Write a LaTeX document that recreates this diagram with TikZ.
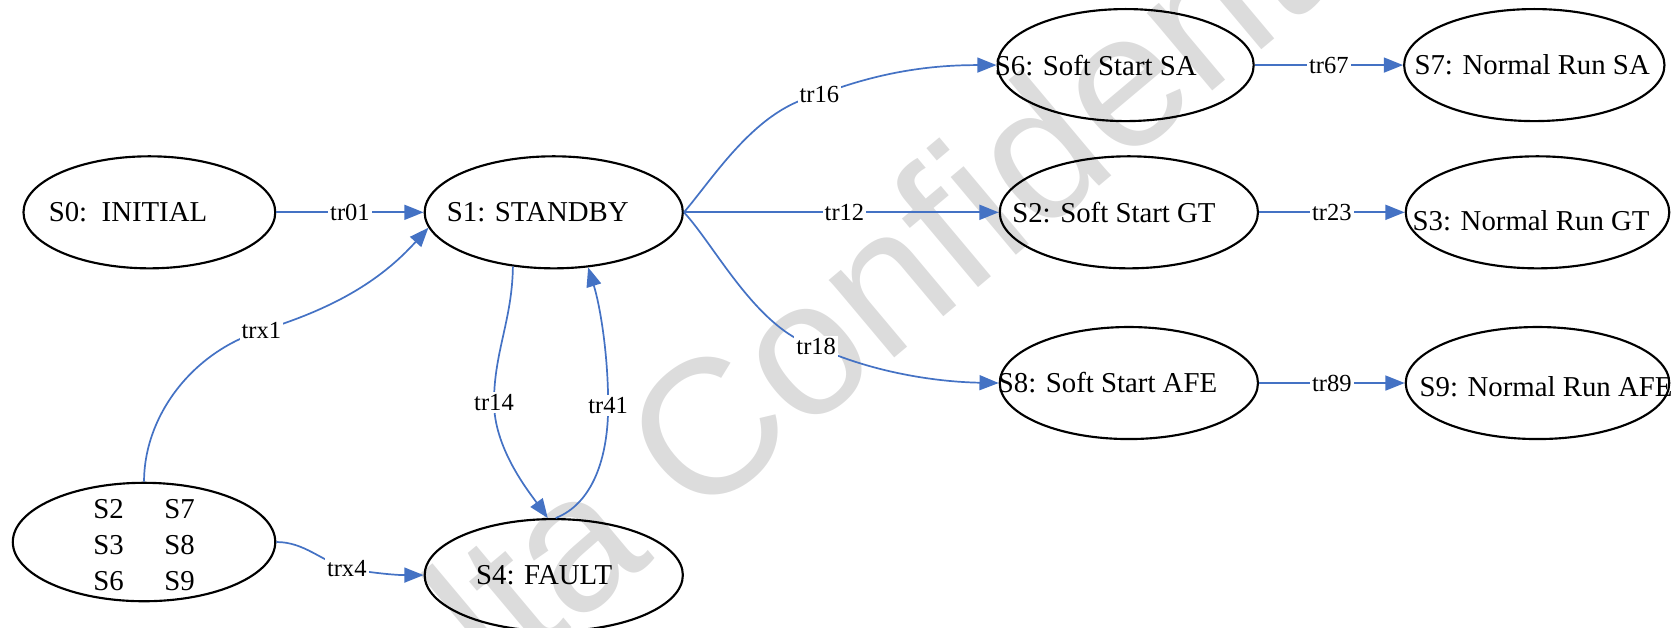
\documentclass[tikz,border=0pt]{standalone}
\usepackage{fontspec}
\setmainfont{Liberation Serif}
\newfontfamily\wmfont{Liberation Sans}
\usetikzlibrary{shapes.geometric,arrows.meta}
\definecolor{edgeblue}{HTML}{4472C4}
\definecolor{wmgrey}{HTML}{DCDCDC}
\begin{document}
\begin{tikzpicture}[x=0.5pt,y=-0.5pt,
  state/.style={ellipse,draw=black,line width=1pt,minimum width=121pt,minimum height=52.5pt,inner sep=0pt},
  stxt/.style={font=\fontsize{13.5}{15}\selectfont,inner sep=0pt},
  edge/.style={draw=edgeblue,line width=0.8pt,-{Triangle[length=9pt,width=7pt]}},
  lbl/.style={fill=white,inner sep=1pt,font=\fontsize{11.5}{12}\selectfont}]
\useasboundingbox (0,0) rectangle (1568,587.7);
% watermark
\begin{scope}
\clip (0,0) rectangle (1568,587.7);
\node[rotate=40,anchor=base west,text=wmgrey,inner sep=0pt,font=\wmfont\fontsize{90}{90}\selectfont] (wm) at (292,794) {Delta Confidential};
\end{scope}
% states
\node[state,minimum width=118pt,label={[stxt,xshift=-10pt]center:S0:~~INITIAL}] (s0) at (140,199) {};
\node[state,label={[stxt,xshift=-7.5pt]center:S1: STANDBY}] (s1) at (519,199) {};
\node[state,label={[stxt,xshift=-4.5pt]center:S4: FAULT}] (s4) at (519,539) {};
\node[state,minimum width=123pt,minimum height=55.5pt] (g) at (135,508) {};
\node[stxt,font=\fontsize{13.5}{16.75}\selectfont,yshift=-2.5pt] (gt) at (g) {\begin{tabular}{@{}l@{\hspace{19pt}}l@{}}S2 & S7\\ S3 & S8\\ S6 & S9\end{tabular}};
\node[state,minimum width=120pt,label={[stxt,xshift=-14pt]center:S6: Soft Start SA}] (s6) at (1055,61) {};
\node[state,label={[stxt,xshift=-7pt]center:S2: Soft Start GT}] (s2) at (1058,199) {};
\node[state,label={[stxt,xshift=-10pt]center:S8: Soft Start AFE}] (s8) at (1058,359) {};
\node[state,minimum width=122pt,label={[stxt,xshift=-1pt]center:S7: Normal Run SA}] (s7) at (1438,61) {};
\node[state,minimum width=123.5pt,label={[stxt,xshift=-3pt,yshift=-4pt]center:S3: Normal Run GT}] (s3) at (1441,199) {};
\node[state,minimum width=123.5pt,label={[stxt,xshift=4pt,yshift=-1.5pt]center:S9: Normal Run AFE}] (s9) at (1441,359) {};
% edges
\draw[edge] (s0.east) -- node[lbl]{tr01} (s1.west);
\draw[edge] (g.north) .. controls (135,390) and (180,330) .. (245,310) node[lbl]{trx1}
  .. controls (310,290) and (355,265) .. (s1.187);
\draw[edge] (g.east) .. controls (285,508) and (300,525) .. (325,533) node[lbl]{trx4}
  .. controls (350,537) and (370,539) .. (s4.west);
\draw[edge] (s1.233) .. controls (480,300) and (463,330) .. (463,377) node[lbl]{tr14}
  .. controls (463,420) and (495,460) .. (s4.96);
\draw[edge] (s4.88) .. controls (555,472) and (570,430) .. (570,380) node[lbl]{tr41}
  .. controls (570,330) and (562,285) .. (s1.302);
\draw[edge] (s1.east) .. controls (670,165) and (710,100) .. (768,89) node[lbl]{tr16}
  .. controls (830,65) and (880,61) .. (s6.west);
\draw[edge] (s1.east) -- node[lbl,pos=0.51]{tr12} (s2.west);
\draw[edge] (s1.east) .. controls (670,230) and (710,310) .. (765,325) node[lbl]{tr18}
  .. controls (820,350) and (880,358) .. (s8.west);
\draw[edge] (s6.east) -- node[lbl]{tr67} (s7.west);
\draw[edge] (s2.east) -- node[lbl]{tr23} (s3.west);
\draw[edge] (s8.east) -- node[lbl]{tr89} (s9.west);
\end{tikzpicture}
\end{document}
